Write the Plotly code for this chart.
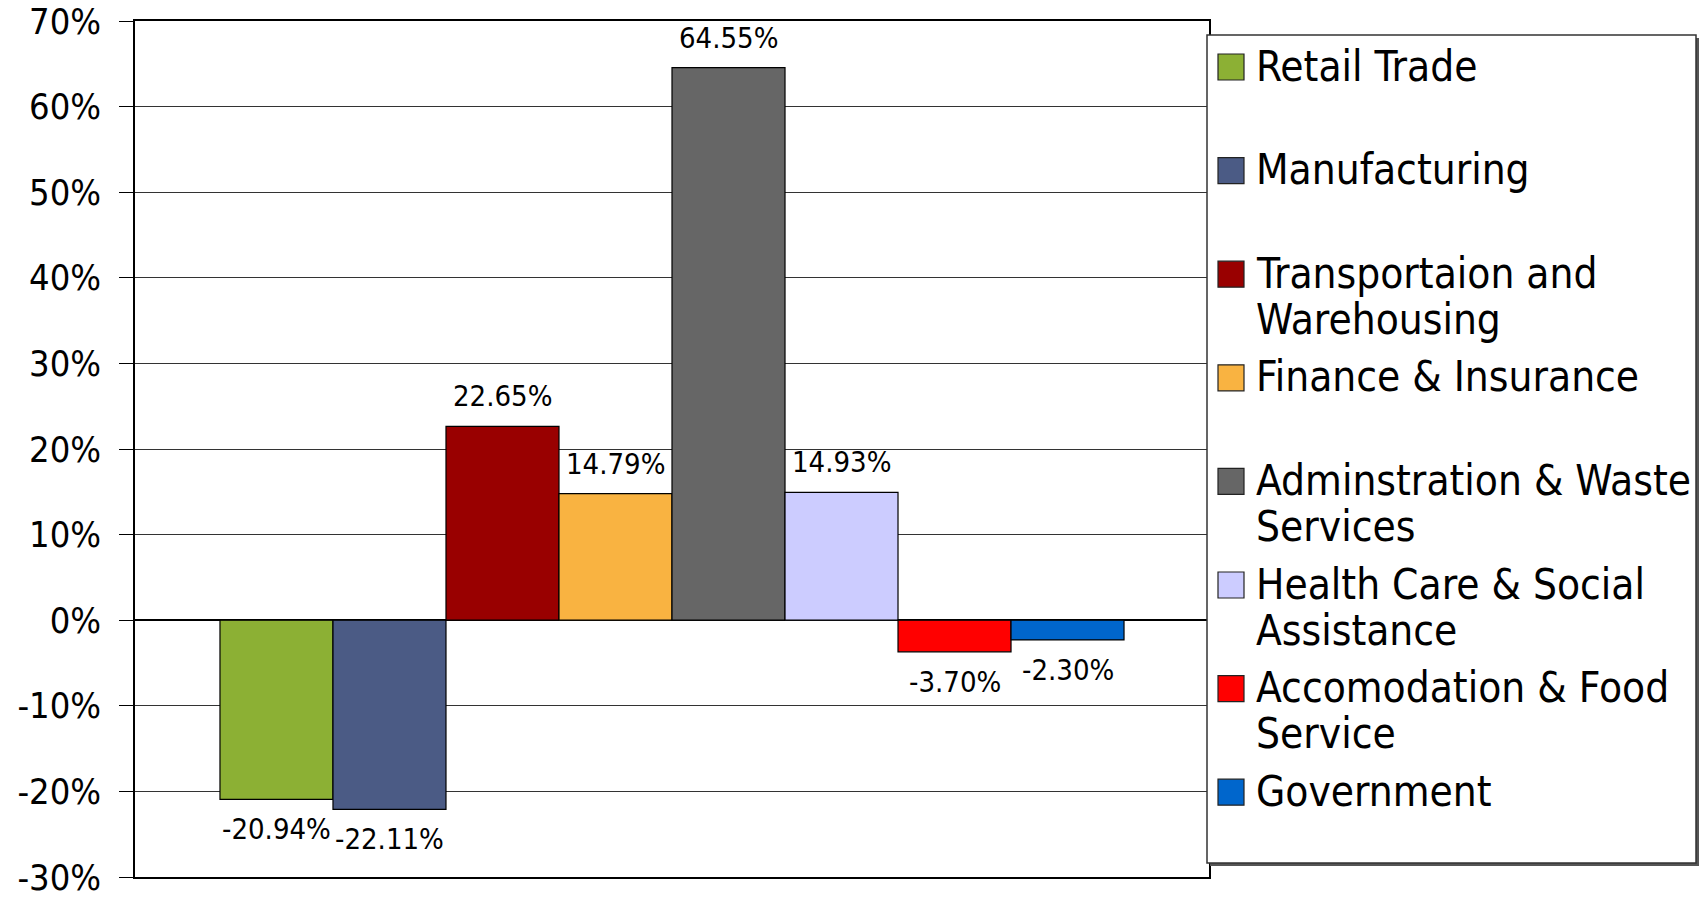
import plotly.graph_objects as go

# Percent change by industry sector
industries = [
    "Retail Trade",
    "Manufacturing",
    "Transportaion and<br>Warehousing",
    "Finance & Insurance",
    "Adminstration & Waste<br>Services",
    "Health Care & Social<br>Assistance",
    "Accomodation & Food<br>Service",
    "Government",
]
pct_change = [-20.94, -22.11, 22.65, 14.79, 64.55, 14.93, -3.70, -2.30]
colors = ["#8CB034", "#4B5B85", "#990000", "#F9B341",
          "#666666", "#CCCCFF", "#FF0000", "#0066CC"]
y_ticks = [-30, -20, -10, 0, 10, 20, 30, 40, 50, 60, 70]
y_tick_labels = [f"{v}%" for v in y_ticks]

W, H = 1703, 899
L, R, T, B = 135, 1209, 21, 877
FONT = "DejaVu Sans Condensed, Liberation Sans, Arial, sans-serif"


def px_x(px):
    return (px - L) / (R - L)


def px_y(py):
    return (B - py) / (B - T)


fig = go.Figure()

for i, (name, val, col) in enumerate(zip(industries, pct_change, colors)):
    fig.add_trace(go.Bar(
        x=[i], y=[val], width=1,
        name=name.replace("<br>", " "),
        marker=dict(color=col, line=dict(color="#000000", width=1.2)),
        showlegend=False,
        hoverinfo="skip",
    ))
    fig.add_annotation(
        x=i, y=val, xref="x", yref="y",
        text=f"{val:.2f}%", showarrow=False,
        yshift=30 if val >= 0 else -30,
        font=dict(family=FONT, size=29, color="#000000"),
    )

# Legend panel drawn as shapes + text so the swatch sits on the first line
shapes = [
    dict(type="rect", xref="paper", yref="paper",
         x0=px_x(1210), x1=px_x(1699), y0=px_y(866), y1=px_y(38),
         fillcolor="#555555", line=dict(width=0), layer="above"),
    dict(type="rect", xref="paper", yref="paper",
         x0=px_x(1207), x1=px_x(1696), y0=px_y(863), y1=px_y(35),
         fillcolor="#FFFFFF", line=dict(color="#333333", width=1.5), layer="above"),
]
first_line = 67
step = 103.6
line_gap = 46
for i, (name, col) in enumerate(zip(industries, colors)):
    cy = first_line + i * step
    shapes.append(dict(
        type="rect", xref="paper", yref="paper",
        x0=px_x(1218), x1=px_x(1244), y0=px_y(cy + 13), y1=px_y(cy - 13),
        fillcolor=col, line=dict(color="#222222", width=1.2), layer="above",
    ))
    for j, part in enumerate(name.split("<br>")):
        fig.add_annotation(
            x=px_x(1254), y=px_y(cy + j * line_gap - 1), xref="paper", yref="paper",
            text=part, showarrow=False, xanchor="left", yanchor="middle",
            font=dict(family=FONT, size=42, color="#000000"),
        )

fig.update_layout(
    width=W, height=H,
    margin=dict(l=L, r=W - R, t=T, b=H - B, pad=0, autoexpand=False),
    paper_bgcolor="#FFFFFF", plot_bgcolor="#FFFFFF",
    barmode="overlay",
    showlegend=False,
    shapes=shapes,
    font=dict(family=FONT, color="#000000"),
)
fig.update_xaxes(
    range=[-1.252, 8.252], showticklabels=False, showgrid=False,
    zeroline=False, showline=True, linecolor="#000000", linewidth=1.5,
    mirror=True, ticks="", automargin=False,
)
fig.update_yaxes(
    range=[-30, 70], tickvals=y_ticks, ticktext=y_tick_labels,
    showgrid=True, gridcolor="#333333", gridwidth=1,
    zeroline=True, zerolinecolor="#000000", zerolinewidth=2,
    showline=True, linecolor="#000000", linewidth=1.5, mirror=True,
    ticks="outside", ticklen=14, tickcolor="#000000", tickwidth=1.2,
    ticklabelstandoff=11, automargin=False,
    tickfont=dict(family=FONT, size=36, color="#000000"),
)

fig.write_html("out.html")
